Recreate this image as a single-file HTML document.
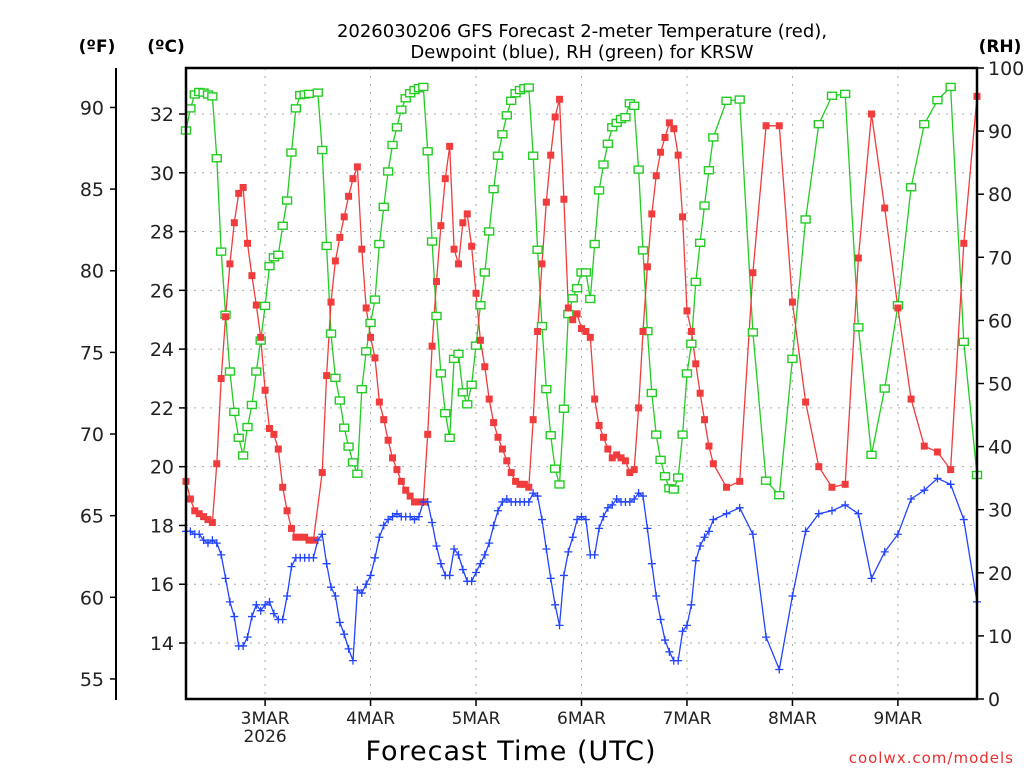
<!DOCTYPE html>
<html><head><meta charset="utf-8"><style>
body{margin:0;background:#fff;width:1024px;height:768px;overflow:hidden}
svg text{font-family:"DejaVu Sans","Liberation Sans",sans-serif}
</style></head><body>
<svg id="c" width="1024" height="768" xmlns="http://www.w3.org/2000/svg">
<text x="582" y="37" font-size="18" text-anchor="middle">2026030206 GFS Forecast 2-meter Temperature (red),</text>
<text x="582" y="58" font-size="18" text-anchor="middle">Dewpoint (blue), RH (green) for KRSW</text>
<text x="97" y="52" font-size="17" font-weight="bold" text-anchor="middle">(ºF)</text>
<text x="166" y="52" font-size="17" font-weight="bold" text-anchor="middle">(ºC)</text>
<text x="1000" y="52" font-size="17" font-weight="bold" text-anchor="middle">(RH)</text>
<text x="511" y="760" font-size="27" text-anchor="middle" letter-spacing="1">Forecast Time (UTC)</text>
<text x="1014" y="763" font-size="15" fill="#e83030" text-anchor="end" letter-spacing="1">coolwx.com/models</text>
<g id="grid"></g><g id="axes"></g><g id="series"></g>
<rect x="186" y="68" width="791" height="631" fill="none" stroke="#000" stroke-width="2.5"/>
</svg>
<script>
const tempHours=[0,1,2,3,4,5,6,7,8,9,10,11,12,13,14,15,16,17,18,19,20,21,22,23,24,25,26,27,28,29,31,32,33,34,35,36,37,38,39,40,41,42,43,44,45,46,47,48,49,50,51,52,53,54,55,56,57,58,59,60,61,62,63,64,65,66,67,68,69,70,71,72,73,74,75,76,77,78,79,80,81,82,83,84,85,86,87,88,89,90,91,92,93,94,95,96,97,98,99,100,101,102,103,104,105,106,107,108,109,110,111,112,113,114,115,116,117,118,119,120,123,126,129,132,135,138,141,144,147,150,153,156,159,162,165,168,171,174,177,180];
const tempC=[19.5,18.9,18.5,18.4,18.3,18.2,18.1,20.1,23.0,25.1,26.9,28.3,29.3,29.5,27.6,26.5,25.5,24.4,22.6,21.3,21.1,20.6,19.3,18.5,17.9,17.6,17.6,17.6,17.5,17.5,19.8,23.1,25.6,27.0,27.8,28.5,29.2,29.8,30.2,27.4,25.4,24.4,23.7,22.2,21.6,20.9,20.3,19.9,19.5,19.2,19.0,18.8,18.8,18.8,21.1,24.1,26.3,28.2,29.8,30.9,27.4,26.9,28.3,28.6,27.5,25.9,24.3,23.4,22.3,21.5,21.0,20.6,20.2,19.8,19.5,19.4,19.4,19.3,21.6,24.6,26.9,29.0,30.6,31.9,32.5,29.1,25.4,25.0,25.2,24.7,24.6,24.4,22.3,21.4,21.0,20.6,20.3,20.4,20.3,20.2,19.8,19.9,22.0,24.6,26.8,28.6,29.9,30.7,31.2,31.7,31.5,30.6,28.5,25.3,24.6,23.5,22.5,21.6,20.7,20.1,19.3,19.5,26.6,31.6,31.6,25.6,22.2,20.0,19.3,19.4,27.1,32.0,28.8,25.4,22.3,20.7,20.5,19.9,27.6,32.6];
const dewHours=[0,1,2,3,4,5,6,7,8,9,10,11,12,13,14,15,16,17,18,19,20,21,22,23,24,25,26,27,28,29,30,31,32,33,34,35,36,37,38,39,40,41,42,43,44,45,46,47,48,49,50,51,52,53,54,55,56,57,58,59,60,61,62,63,64,65,66,67,68,69,70,71,72,73,74,75,76,77,78,79,80,81,82,83,84,85,86,87,88,89,90,91,92,93,94,95,96,97,98,99,100,101,102,103,104,105,106,107,108,109,110,111,112,113,114,115,116,117,118,119,120,123,126,129,132,135,138,141,144,147,150,153,156,159,162,165,168,171,174,177,180];
const dewC=[17.8,17.8,17.7,17.7,17.5,17.4,17.5,17.4,17.0,16.2,15.4,14.9,13.9,13.9,14.2,14.9,15.3,15.1,15.3,15.4,15.0,14.8,14.8,15.6,16.6,16.9,16.9,16.9,16.9,16.9,17.5,17.7,16.7,15.9,15.6,14.7,14.3,13.8,13.4,15.8,15.7,16.0,16.3,16.9,17.6,18.0,18.2,18.3,18.4,18.3,18.3,18.3,18.2,18.3,18.8,18.8,18.1,17.3,16.7,16.3,16.3,17.2,17.0,16.5,16.1,16.1,16.4,16.7,17.0,17.4,18.0,18.5,18.8,18.9,18.8,18.8,18.8,18.8,18.8,19.1,19.0,18.2,17.2,16.2,15.3,14.6,16.3,17.1,17.6,18.2,18.3,18.2,17.0,17.0,17.9,18.3,18.6,18.7,18.9,18.8,18.8,18.8,18.9,19.1,19.0,17.9,16.7,15.6,14.8,14.1,13.7,13.4,13.4,14.4,14.6,15.3,16.8,17.3,17.6,17.8,18.2,18.4,18.6,17.7,14.2,13.1,15.6,17.8,18.4,18.5,18.7,18.4,16.2,17.1,17.7,18.9,19.2,19.6,19.4,18.2,15.4];
const rhHours=[0,1,2,3,4,5,6,7,8,9,10,11,12,13,14,15,16,17,18,19,20,21,22,23,24,25,26,27,28,30,31,32,33,34,35,36,37,38,39,40,41,42,43,44,45,46,47,48,49,50,51,52,53,54,55,56,57,58,59,60,61,62,63,64,65,66,67,68,69,70,71,72,73,74,75,76,77,78,79,80,81,82,83,84,85,86,87,88,89,90,91,92,93,94,95,96,97,98,99,100,101,102,103,104,105,106,107,108,109,110,111,112,113,114,115,116,117,118,119,120,123,126,129,132,135,138,141,144,147,150,153,156,159,162,165,168,171,174,177,180];
const rhVals=[90.1,93.6,95.8,96.2,96.1,95.8,95.5,85.7,70.9,60.9,51.9,45.5,41.4,38.6,43.1,46.6,51.9,56.8,62.3,68.6,70.0,70.4,75.0,79.0,86.6,93.6,95.7,95.8,95.9,96.1,87.0,71.8,57.9,50.9,47.3,43.0,40.0,37.5,35.7,49.1,55.1,59.6,63.3,72.1,78.0,83.6,87.8,90.6,93.4,95.2,96.0,96.5,96.8,97.0,86.8,72.5,60.7,51.6,45.3,41.4,53.9,54.7,48.6,46.7,49.8,56.0,62.4,67.6,74.1,80.8,86.1,89.5,92.5,94.8,96.0,96.5,96.8,96.9,86.1,71.2,59.1,49.1,41.8,36.5,34.0,46.0,61.0,63.5,65.1,67.6,67.6,63.4,72.1,80.6,84.7,88.0,90.6,91.3,91.9,92.2,94.4,94.0,83.9,71.1,58.3,48.5,41.9,37.9,35.3,33.4,33.2,35.1,41.9,51.6,56.3,66.1,72.3,78.2,83.8,89.0,94.8,95.0,58.1,34.6,32.3,53.9,76.0,91.1,95.6,95.9,58.9,38.7,49.2,62.4,81.1,91.1,94.9,97.0,56.6,35.5];
const cTicks=[14,16,18,20,22,24,26,28,30,32];
const fTicks=[55,60,65,70,75,80,85,90];
const rhTicks=[0,10,20,30,40,50,60,70,80,90,100];
const dayLabels=["3MAR","4MAR","5MAR","6MAR","7MAR","8MAR","9MAR"];
const dayHours=[18,42,66,90,114,138,162];

const NS="http://www.w3.org/2000/svg";
const X=h=>186+h*791/180;
const YC=c=>114+(32-c)*29.39;
const YF=f=>YC((f-32)/1.8);
const YR=r=>699-r*6.31;
function mk(tag,attrs,parent,txt){const e=document.createElementNS(NS,tag);for(const k in attrs)e.setAttribute(k,attrs[k]);if(txt!==undefined)e.textContent=txt;parent.appendChild(e);return e;}
const grid=document.getElementById('grid'),axes=document.getElementById('axes'),ser=document.getElementById('series');
cTicks.forEach(c=>{const y=YC(c);
 const g=mk('line',{x1:186,x2:977,y1:y,y2:y,stroke:'#aaa','stroke-dasharray':'2,6'},grid);
 
 
 mk('line',{x1:179,x2:186,y1:y,y2:y,stroke:'#000','stroke-width':1.5},axes);
 const t=mk('text',{x:174,y:y+7,'font-size':19,'text-anchor':'end',fill:'#222'},axes,String(c));
 
 });
mk('line',{x1:116,x2:116,y1:68,y2:700,stroke:'#000','stroke-width':2},axes);
fTicks.forEach(f=>{const y=YF(f);
 mk('line',{x1:110,x2:116,y1:y,y2:y,stroke:'#000','stroke-width':1.5},axes);
 const t=mk('text',{x:104,y:y+7,'font-size':19,'text-anchor':'end',fill:'#222'},axes,String(f));
 
 });
rhTicks.forEach(r=>{const y=YR(r);
 mk('line',{x1:977,x2:984,y1:y,y2:y,stroke:'#000','stroke-width':1.5},axes);
 const t=mk('text',{x:988,y:y+7,'font-size':19,fill:'#222'},axes,String(r));
 
 });
dayHours.forEach((h,i)=>{const x=X(h);
 const g=mk('line',{x1:x,x2:x,y1:68,y2:699,stroke:'#aaa','stroke-dasharray':'2,6'},grid);
 
 
 mk('line',{x1:x,x2:x,y1:699,y2:706,stroke:'#000','stroke-width':1.5},axes);
 const t=mk('text',{x:x,y:724,'font-size':17,'text-anchor':'middle',fill:'#222'},axes,dayLabels[i]);
 
 });
const yr=mk('text',{x:X(dayHours[0]),y:742,'font-size':17,'text-anchor':'middle',fill:'#222'},axes,'2026');



function line(hours,vals,yf,color,name){
 const p=hours.map((h,i)=>X(h).toFixed(1)+','+yf(vals[i]).toFixed(1)).join(' ');
 const l=mk('polyline',{points:p,fill:'none',stroke:color,'stroke-width':1.3},ser);
 
 
}
line(rhHours,rhVals,YR,'#22cc22','rh-line');
line(tempHours,tempC,YC,'#f03c3c','temperature-line');
line(dewHours,dewC,YC,'#2244ff','dewpoint-line');
rhHours.forEach((h,i)=>{const m=mk('rect',{x:X(h)-4.5,y:YR(rhVals[i])-3.5,width:9,height:7,fill:'#fff',stroke:'#22cc22','stroke-width':1.4},ser);
 
 });
tempHours.forEach((h,i)=>{const m=mk('rect',{x:X(h)-3.5,y:YC(tempC[i])-3.5,width:7,height:7,fill:'#f03c3c'},ser);
 
 });
dewHours.forEach((h,i)=>{const x=X(h),y=YC(dewC[i]);const m=mk('path',{d:`M${x-4},${y}H${x+4}M${x},${y-4}V${y+4}`,stroke:'#2244ff','stroke-width':1.3},ser);
 
 });
</script>
</body></html>
